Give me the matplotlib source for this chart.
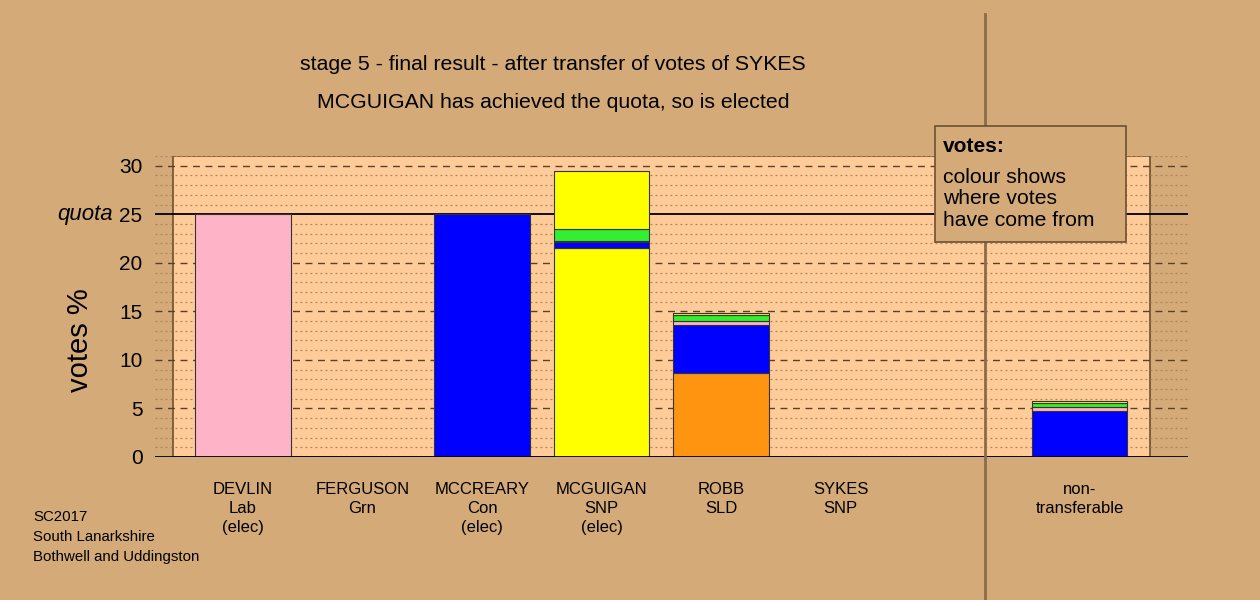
import numpy as np
import matplotlib
matplotlib.use("Agg")
import matplotlib.pyplot as plt
from matplotlib.patches import Rectangle
import matplotlib.transforms as mtransforms

plt.rcParams['font.family'] = ['Liberation Sans', 'DejaVu Sans']

# dados
names = ["DEVLIN", "FERGUSON", "MCCREARY", "MCGUIGAN", "ROBB", "SYKES", "non-\ntransferable"]
parties = ["Lab", "Grn", "Con", "SNP", "SLD", "SNP", ""]
elected = [True, False, True, True, False, False, False]
xpos = [0, 1, 2, 3, 4, 5, 7]

# camadas: votos próprios, depois cada transferência
own = [25.0, 0.0, 25.0, 21.55, 8.66, 0.0, 0.0]
own_colors = ["#FFB3C6", "#33EE33", "#0000FF", "#FFFF00", "#FF9410", "#FFFF00", "#FFFF00"]
from_mccreary = [0, 0, 0, 0.55, 4.94, 0, 4.77]
from_devlin = [0, 0, 0, 0.17, 0.37, 0, 0.35]
from_ferguson = [0, 0, 0, 1.24, 0.62, 0, 0.42]
from_sykes = [0, 0, 0, 5.97, 0.26, 0, 0.20]
transfers = [(from_mccreary, "#0000FF"), (from_devlin, "#FFB3C6"),
             (from_ferguson, "#33EE33"), (from_sykes, "#FFFF00")]

quota = 25
bg = "#D4AA78"
panel = "#FFCC99"

fig = plt.figure(figsize=(12.6, 6), dpi=100, facecolor=bg)
ax = fig.add_axes([155 / 1260, 143 / 600, 1033 / 1260, 301 / 600])
ax.set_facecolor("none")
ax.set_xlim(-0.736, 7.908)
ax.set_ylim(0, 31)

# painel
ax.add_patch(Rectangle((-0.586, 0), 8.176, 31, facecolor=panel, edgecolor="#6b5030", lw=1.2, zorder=0))

# grade
for v in range(0, 32):
    if v == quota:
        continue
    if v % 5 == 0:
        ax.axhline(v, color="#5a4028", lw=1, ls=(0, (5, 4)), zorder=1)
    else:
        ax.axhline(v, color="#a88660", lw=0.9, ls=(0, (1.5, 2.5)), zorder=1)
ax.axhline(quota, color="black", lw=1.3, zorder=1)

# barras
bottom = np.zeros(len(xpos))
ax.bar(xpos, own, width=0.8, bottom=bottom, color=own_colors, edgecolor="#333333", lw=0.8, zorder=2)
bottom += np.array(own)
for vals, col in transfers:
    vals = np.array(vals, dtype=float)
    mask = vals > 0
    ax.bar(np.array(xpos)[mask], vals[mask], width=0.8, bottom=bottom[mask], color=col,
           edgecolor="#333333", lw=0.8, zorder=2)
    bottom += vals

ax.axhline(0, color="black", lw=2, zorder=3)

for s in ax.spines.values():
    s.set_visible(False)
ax.set_xticks([])
ax.set_yticks(range(0, 31, 5))
ax.set_yticklabels([str(v) for v in range(0, 31, 5)], fontsize=15)
ax.tick_params(axis="y", length=0, pad=9)
fig.text(80 / 1260, 1 - 340 / 600, "votes %", fontsize=21, rotation=90, ha="center", va="center")
ax.text(-1.088, quota, "quota", fontsize=16, style="italic", ha="right", va="center")

# rótulos dos candidatos
trans = mtransforms.blended_transform_factory(ax.transData, ax.transAxes)
for x, n, p, e in zip(xpos, names, parties, elected):
    lab = n
    if p:
        lab += "\n" + p
    if e:
        lab += "\n(elec)"
    ax.text(x, -0.082, lab, transform=trans, ha="center", va="top", fontsize=12, linespacing=1.36)

# linha vertical
ax.axvline(6.21, ymin=-0.475, ymax=1.472, color="#8B6B4A", lw=2, clip_on=False, zorder=4)

# títulos
fig.text(553 / 1260, 1 - 65 / 600, "stage 5 - final result - after transfer of votes of SYKES",
         ha="center", va="center", fontsize=15.3)
fig.text(553 / 1260, 1 - 103 / 600, "MCGUIGAN has achieved the quota, so is elected",
         ha="center", va="center", fontsize=15.3)

# legenda
fig.patches.append(Rectangle((935 / 1260, 1 - 242 / 600), 191 / 1260, 116 / 600,
                             transform=fig.transFigure, facecolor=bg, edgecolor="#6b5030",
                             lw=1.2, zorder=5))
fig.text(943 / 1260, 1 - 146 / 600, "votes:", fontsize=15, weight="bold", va="center", zorder=6)
fig.text(943 / 1260, 1 - 199 / 600, "colour shows\nwhere votes\nhave come from", fontsize=15.2,
         va="center", linespacing=1.15, zorder=6)

# nota
fig.text(33 / 1260, 1 - 537 / 600, "SC2017\nSouth Lanarkshire\nBothwell and Uddingston",
         fontsize=10.8, va="center", linespacing=1.55)

fig.savefig("out.png", dpi=100, facecolor=bg)
